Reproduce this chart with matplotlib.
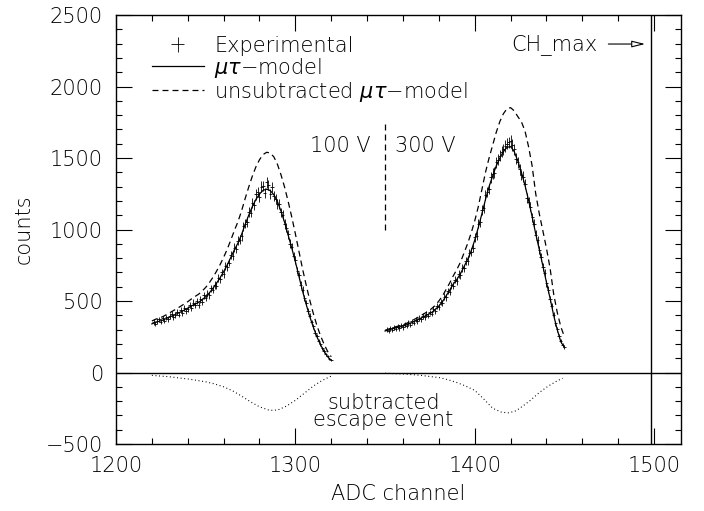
import numpy as np
import matplotlib
matplotlib.use('Agg')
import matplotlib.pyplot as plt
from matplotlib.legend_handler import HandlerErrorbar
from matplotlib.lines import Line2D
from matplotlib.ticker import MultipleLocator

# ---------------- data ----------------
# experimental spectra (counts per ADC channel)
exp_x_100V = list(range(1221, 1321))
exp_y_100V = [352, 341, 360, 371, 355, 378, 362, 385, 371, 394,
              410, 388, 402, 425, 405, 436, 418, 452, 431, 446,
              470, 448, 489, 470, 498, 473, 512, 496, 540, 521,
              552, 540, 590, 579, 612, 608, 660, 651, 700, 688,
              745, 740, 769, 822, 818, 874, 865, 921, 928, 952,
              1023, 1040, 1052, 1121, 1118, 1187, 1172, 1245, 1262, 1228,
              1300, 1305, 1258, 1330, 1312, 1250, 1295, 1232, 1210, 1178,
              1181, 1120, 1103, 1038, 1012, 968, 902, 876, 815, 784,
              712, 680, 612, 578, 520, 485, 428, 398, 350, 322,
              278, 256, 218, 199, 168, 152, 126, 114, 94, 88]

exp_x_300V = list(range(1351, 1451))
exp_y_300V = [300, 290, 310, 298, 316, 305, 322, 311, 330, 318,
              337, 326, 347, 335, 358, 348, 370, 360, 383, 372,
              395, 386, 410, 398, 420, 412, 442, 432, 466, 457,
              492, 485, 530, 525, 570, 566, 610, 606, 650, 640,
              688, 680, 730, 728, 782, 778, 838, 842, 870, 945,
              958, 1040, 1050, 1135, 1148, 1240, 1262, 1285, 1365, 1390,
              1398, 1470, 1488, 1515, 1545, 1560, 1585, 1600, 1610, 1620,
              1590, 1560, 1495, 1470, 1420, 1380, 1370, 1320, 1220, 1190,
              1160, 1085, 1040, 962, 925, 858, 810, 740, 695, 625,
              580, 515, 465, 405, 345, 304, 255, 220, 192, 178]

# mu-tau model (fitted, escape-subtracted) and unsubtracted model
model_x_100V = list(range(1220, 1321, 2))
model_100V = [340, 350, 358, 366, 377, 388, 400, 411, 423, 436,
              450, 465, 478, 490, 508, 530, 556, 588, 623, 662,
              705, 752, 805, 858, 905, 965, 1035, 1100, 1160, 1210,
              1248, 1274, 1282, 1272, 1243, 1195, 1128, 1050, 960, 870,
              775, 672, 570, 478, 392, 318, 250, 195, 148, 110, 85]
unsub_100V = [360, 372, 381, 390, 404, 418, 433, 447, 463, 479,
              495, 514, 531, 547, 569, 595, 627, 665, 707, 754,
              805, 862, 926, 993, 1055, 1130, 1216, 1297, 1373, 1438,
              1488, 1524, 1540, 1535, 1508, 1456, 1382, 1296, 1195, 1087,
              970, 847, 725, 613, 507, 413, 329, 258, 198, 147, 110]

model_x_300V = list(range(1350, 1451, 2))
model_300V = [290, 298, 305, 312, 318, 325, 333, 343, 355, 367,
              380, 393, 405, 420, 440, 465, 495, 535, 575, 618,
              650, 690, 740, 790, 850, 925, 1015, 1110, 1210, 1300,
              1375, 1445, 1500, 1545, 1575, 1580, 1545, 1480, 1400, 1310,
              1205, 1090, 970, 860, 745, 630, 520, 400, 300, 215, 175]
unsub_300V = [295, 304, 312, 320, 327, 335, 344, 356, 369, 383,
              398, 413, 428, 447, 470, 500, 535, 580, 625, 675,
              720, 770, 835, 900, 975, 1060, 1160, 1280, 1400, 1500,
              1590, 1680, 1755, 1810, 1845, 1852, 1830, 1790, 1754, 1690,
              1580, 1445, 1250, 1110, 990, 868, 730, 550, 420, 320, 250]

# subtracted escape-event contribution
esc_x_100V = [1220, 1225, 1230, 1235, 1240, 1245, 1250, 1255, 1260, 1265, 1270,
              1275, 1280, 1285, 1288, 1291, 1295, 1300, 1305, 1310, 1315, 1320]
esc_100V = [-20, -25, -30, -38, -45, -55, -65, -80, -100, -128, -165,
            -205, -240, -262, -265, -258, -235, -195, -145, -95, -55, -25]
esc_x_300V = [1350, 1355, 1360, 1365, 1370, 1375, 1380, 1385, 1390, 1395, 1400,
              1405, 1410, 1415, 1419, 1423, 1427, 1431, 1436, 1441, 1446, 1449]
esc_300V = [-5, -8, -10, -15, -20, -28, -35, -50, -70, -95, -125,
            -185, -250, -278, -282, -268, -233, -195, -140, -95, -58, -40]

ch_max = 1498
separator_x = 1350
separator_y = [1000, 1750]

x_ticks = [1200, 1300, 1400, 1500]
y_ticks = [-500, 0, 500, 1000, 1500, 2000, 2500]

# ---------------- plot ----------------
plt.rcParams['font.family'] = ['DejaVu Sans']
plt.rcParams['font.weight'] = 200
plt.rcParams['axes.labelweight'] = 200
plt.rcParams['lines.scale_dashes'] = False
plt.rcParams['mathtext.fontset'] = 'dejavusans'

FS = 15
DASH = (4.3, 2.9)

fig = plt.figure(figsize=(7.04, 5.11), dpi=100)
ax = fig.add_axes([116 / 704, 67 / 511, 565 / 704, 429 / 511])

eb = None
for ex, ey in ((exp_x_100V, exp_y_100V), (exp_x_300V, exp_y_300V)):
    ey = np.array(ey, dtype=float)
    eb = ax.errorbar(ex, ey, yerr=np.sqrt(ey), xerr=0.9, fmt='none',
                     ecolor='black', elinewidth=0.6, capsize=0)

for mx, ms, mu in ((model_x_100V, model_100V, unsub_100V),
                   (model_x_300V, model_300V, unsub_300V)):
    ax.plot(mx, ms, color='black', lw=0.9)
    ax.plot(mx, mu, color='black', lw=0.9, dashes=DASH)

for qx, qy in ((esc_x_100V, esc_100V), (esc_x_300V, esc_300V)):
    ax.plot(qx, qy, color='black', lw=0.8, dashes=(0.7, 1.9))

ax.axhline(0, color='black', lw=1.0)
ax.axvline(ch_max, color='black', lw=1.0)
ax.vlines(separator_x, separator_y[0], separator_y[1], color='black',
          lw=0.9, linestyles=[(0, DASH)])

ax.text(1324.8, 1585, '100 V', fontsize=FS, ha='center', va='center')
ax.text(1372.4, 1585, '300 V', fontsize=FS, ha='center', va='center')
ax.text(1349, -272, 'subtracted\nescape event', fontsize=FS, ha='center',
        va='center', multialignment='center', linespacing=0.8)

ax.text(1468.5, 2290, 'CH_max', fontsize=FS, ha='right', va='center')
ax.annotate('', xy=(1495, 2297), xytext=(1474.5, 2297),
            arrowprops=dict(arrowstyle='-|>,head_length=0.8,head_width=0.2',
                            fc='white', ec='black', lw=0.8,
                            shrinkA=0, shrinkB=0))

solid_h = Line2D([], [], color='black', lw=0.9)
dash_h = Line2D([], [], color='black', lw=0.9, dashes=DASH)
ax.legend([eb, solid_h, dash_h],
          ['Experimental', r'$\mu\tau$' + '\u2212model',
           'unsubtracted ' + r'$\mu\tau$' + '\u2212model'],
          loc='upper left', bbox_to_anchor=(0.063, 0.952), frameon=False,
          fontsize=FS, handlelength=2.5, handletextpad=0.5,
          labelspacing=0.0, borderpad=0, borderaxespad=0,
          handler_map={eb: HandlerErrorbar(xerr_size=0.3, yerr_size=0.35)})

ax.set_xlim(1200, 1515)
ax.set_ylim(-500, 2500)
ax.set_xticks(x_ticks)
ax.set_yticks(y_ticks)
ax.xaxis.set_minor_locator(MultipleLocator(20))
ax.yaxis.set_minor_locator(MultipleLocator(100))
ax.tick_params(which='both', direction='in', top=True, right=True,
               labelsize=FS, width=0.8, colors='black')
ax.tick_params(which='major', length=11.5)
ax.tick_params(which='minor', length=4)
ax.tick_params(axis='x', which='major', pad=8.3)
ax.tick_params(axis='y', which='major', pad=9.4)
for s in ax.spines.values():
    s.set_linewidth(1.0)

ax.set_xlabel('ADC channel', fontsize=FS, va='center', fontweight=200)
ax.set_ylabel('counts', fontsize=FS, va='center', fontweight=200)
ax.xaxis.set_label_coords(0.5, -0.117)
ax.yaxis.set_label_coords(-0.163, 0.5)

fig.savefig('out.png', dpi=100)
